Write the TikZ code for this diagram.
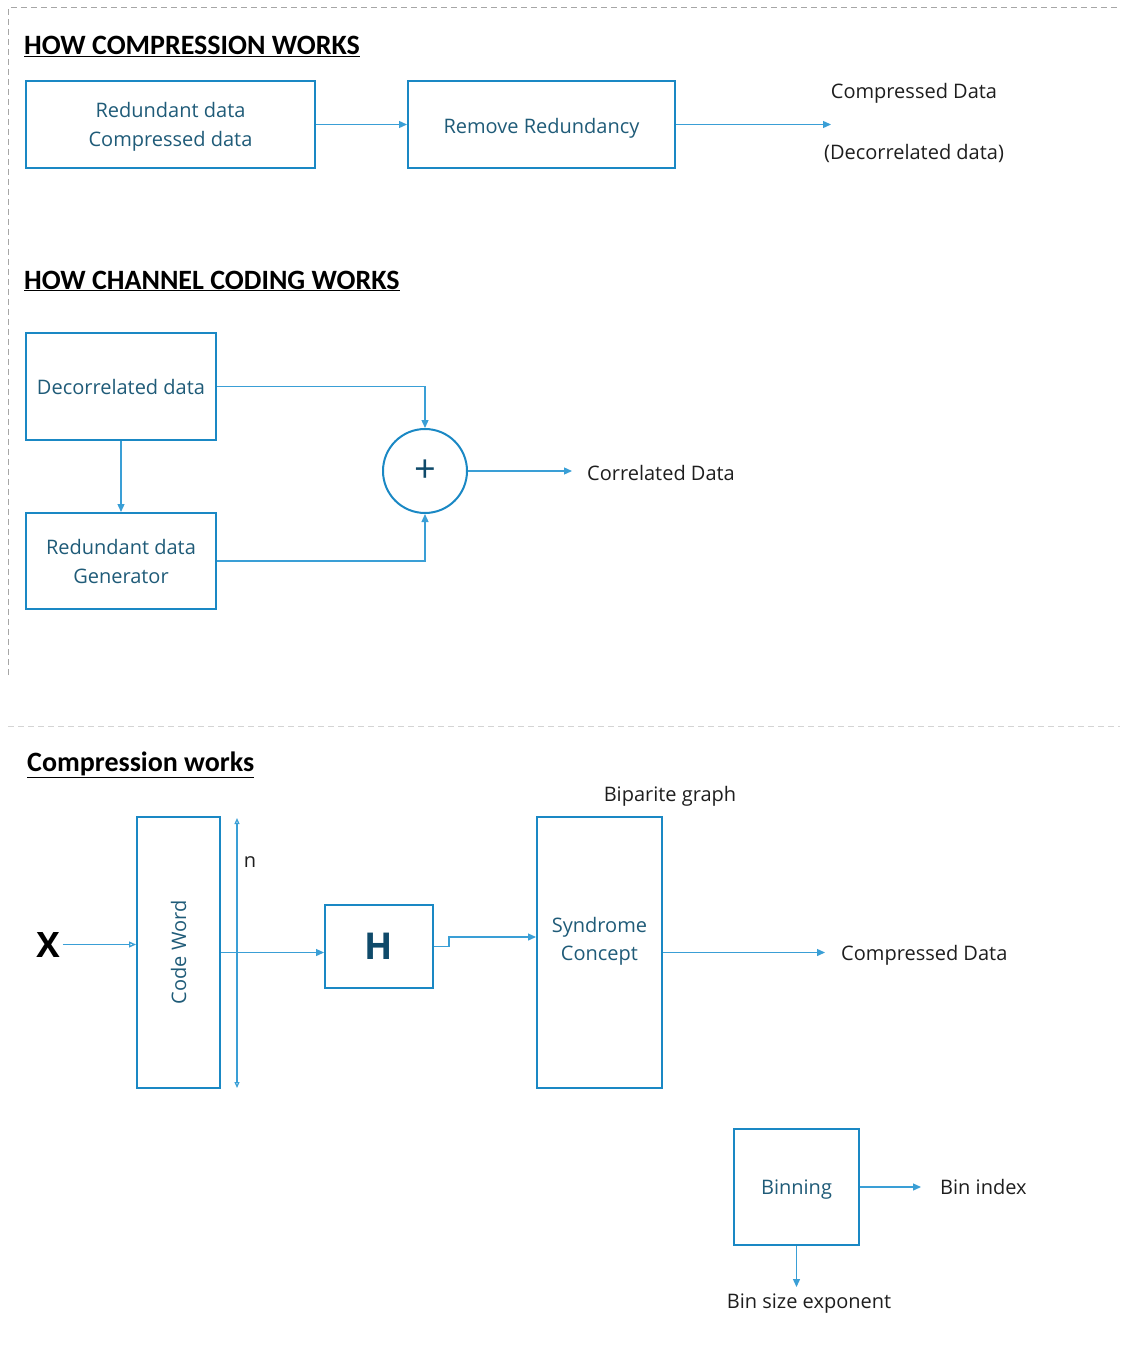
\documentclass[tikz,border=0pt]{standalone}
\usepackage{fontspec}
\setmainfont{Open Sans}
\newfontfamily\titlefont{Carlito}
\usetikzlibrary{arrows.meta,calc}
\definecolor{boxblue}{HTML}{1A88C4}
\definecolor{lineblue}{HTML}{3A9FD6}
\definecolor{boxtext}{HTML}{1F5B78}
\definecolor{labeltext}{HTML}{1E1E1E}
\definecolor{hcolor}{HTML}{0F4A6A}
\definecolor{framegray}{HTML}{A6A6A6}
\definecolor{framelight}{HTML}{D4D4D4}
\tikzset{
  blockbox/.style={draw=boxblue, line width=2pt, text=boxtext, align=center,
    inner sep=0pt, font=\fontsize{20}{29}\selectfont},
  boxlabel/.style={text=boxtext, align=center, inner sep=0pt,
    font=\fontsize{20}{28}\selectfont},
  link/.style={draw=lineblue, line width=1.3pt, -{Triangle[length=8pt,width=7pt]}},
  openlink/.style={draw=lineblue, line width=1.3pt, -{Triangle[open,length=7pt,width=6pt]}},
  dimline/.style={draw=lineblue, line width=1.2pt,
    {Triangle[open,length=6pt,width=5pt]}-{Triangle[open,length=6pt,width=5pt]}},
  lbl/.style={text=labeltext, inner sep=0pt, font=\fontsize{20}{24}\selectfont},
  heading/.style={text=black, inner sep=0pt, anchor=base west,
    font=\titlefont\bfseries\fontsize{28}{32}\selectfont},
}
\begin{document}
\begin{tikzpicture}[x=1pt,y=-1pt]
\useasboundingbox (0,0) rectangle (1120,1372);

% section frames
\draw[framegray, line width=1pt, dash pattern=on 6pt off 4pt] (8,675) -- (8,8) -- (1120,8);
\draw[framelight, line width=1pt, dash pattern=on 6pt off 4pt] (8,726) -- (1120,726);

% ---------- how compression works ----------
\node[heading] (h1) at (24,55) {\underline{HOW COMPRESSION WORKS}};
\node[blockbox, minimum width=289pt, minimum height=87pt, text depth=0pt] (rd) at (170.5,124.5)
  {Redundant data\\Compressed data};
\node[blockbox, minimum width=267pt, minimum height=87pt, text height=18pt, text depth=0pt]
  (rr) at (541.5,124.5) {Remove Redundancy};
\coordinate (cdend) at (831,124.5);
\node[lbl, anchor=base] (cdtop) at (914,99) {Compressed Data};
\node[lbl, anchor=base] (cdbot) at (914,160) {(Decorrelated data)};
\draw[link] (rd) -- (rr);
\draw[link] (rr) -- (cdend);

% ---------- how channel coding works ----------
\node[heading] (h2) at (24,289) {\underline{HOW CHANNEL CODING WORKS}};
\node[blockbox, minimum width=190pt, minimum height=107pt] (dec) at (121,386.5)
  {Decorrelated data};
\node[blockbox, minimum width=190pt, minimum height=96pt] (rg) at (121,561)
  {Redundant data\\Generator};
\node[circle, draw=boxblue, line width=2pt, minimum size=84pt, inner sep=0pt,
  text=hcolor, font=\fontsize{38}{38}\selectfont] (sum) at (425,471) {+};
\coordinate (corrend) at (572,471);
\node[lbl, anchor=base west] (corr) at (587,480) {Correlated Data};
\draw[link] (dec) -- (rg);
\draw[link] (dec.east) -| (sum.north);
\draw[link] (rg.east) -| (sum.south);
\draw[link] (sum) -- (corrend);

% ---------- compression works ----------
\node[heading] (h3) at (27,771) {\underline{Compression works}};
\node[lbl, anchor=base] (bip) at (670,801) {Biparite graph};

\node[text=black, inner sep=3pt, font=\bfseries\fontsize{35}{35}\selectfont] (xin) at (48,944.5) {X};
\node[blockbox, minimum width=83pt, minimum height=271pt] (cw) at (178.5,952.5) {};
\node[boxlabel, rotate=90] (cwtext) at (cw.center) {Code Word};
\coordinate (ntop) at (237,818);
\coordinate (nbot) at (237,1088);
\draw[dimline] (ntop) -- (nbot);
\node[lbl] (nlab) at (250,862.5) {n};

\node[blockbox, minimum width=108pt, minimum height=83pt, text=hcolor,
  font=\bfseries\fontsize{37}{37}\selectfont] (hbox) at (379,946.5) {H};
\node[blockbox, minimum width=125pt, minimum height=271pt] (syn) at (599.5,952.5) {};
\node[boxlabel] (syntext) at (599.5,941) {Syndrome\\Concept};
\coordinate (cdend2) at (825,952.5);
\node[lbl, anchor=base west] (cdlow) at (841,960) {Compressed Data};

\draw[openlink] (xin.east) -- (xin.east -| cw.west);
\draw[link] (cw.east) -- (cw.east -| hbox.west);
\draw[link] (hbox.east) -- ++(15pt,0) |- ($(syn.west)+(0,-15.5)$);
\draw[link] (syn.east) -- (cdend2);

% ---------- binning ----------
\node[blockbox, minimum width=125pt, minimum height=116pt, text depth=0pt] (bin) at (796.5,1187) {Binning};
\coordinate (binend) at (921,1187);
\coordinate (expend) at (796.5,1287);
\node[lbl, anchor=base west] (binidx) at (940,1194) {Bin index};
\node[lbl, anchor=base] (binexp) at (809,1308) {Bin size exponent};
\draw[link] (bin) -- (binend);
\draw[link] (bin.south) -- (expend);
\end{tikzpicture}
\end{document}
